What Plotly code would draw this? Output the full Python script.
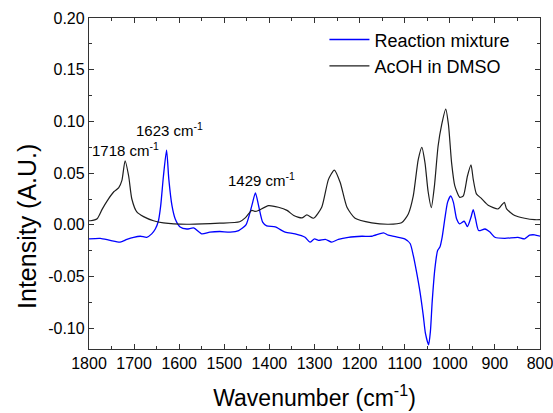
import plotly.graph_objects as go

# AcOH in DMSO (black)
acoh_wn = [1800, 1797, 1782, 1771, 1760, 1745, 1734, 1727, 1720, 1712, 1705, 1694, 1679, 1657, 1635, 1583,
           1510, 1466, 1453, 1439, 1431, 1424, 1402, 1380, 1361, 1346, 1328, 1317, 1302, 1284, 1269, 1256,
           1243, 1228, 1210, 1173, 1136, 1107, 1092, 1081, 1070, 1062, 1055, 1048, 1041, 1034, 1026, 1018,
           1009, 1003, 996, 989, 978, 970, 961, 953, 948, 941, 930, 915, 893, 886, 879, 874, 856, 834, 812, 800]
acoh_val = [0.004, 0.004, 0.006, 0.015, 0.023, 0.032, 0.036, 0.043, 0.062, 0.047, 0.025, 0.0125, 0.008, 0.004, 0.002, 0.0006,
            0.0016, 0.003, 0.007, 0.014, 0.013, 0.014, 0.0186, 0.017, 0.014, 0.009, 0.0067, 0.0096, 0.0064, 0.017, 0.044, 0.053,
            0.041, 0.017, 0.0064, 0.002, 0.0006, 0.002, 0.0106, 0.028, 0.063, 0.075, 0.060, 0.032, 0.0167, 0.038, 0.076, 0.097,
            0.112, 0.097, 0.060, 0.038, 0.0266, 0.028, 0.047, 0.058, 0.044, 0.030, 0.0256, 0.019, 0.0154, 0.0186, 0.0218, 0.0154, 0.009, 0.0064, 0.005, 0.005]

# Reaction mixture (blue)
rxn_wn = [1800, 1775, 1753, 1731, 1716, 1701, 1686, 1672, 1661, 1653, 1646, 1641, 1635, 1628, 1623, 1616, 1609, 1598,
          1583, 1568, 1550, 1532, 1510, 1487, 1468, 1452, 1439, 1431, 1424, 1415, 1406, 1387, 1365, 1343, 1321, 1310,
          1300, 1291, 1276, 1262, 1247, 1225, 1195, 1173, 1147, 1136, 1114, 1100, 1088, 1081, 1074, 1066, 1059, 1054,
          1047, 1043, 1039, 1033, 1027, 1022, 1017, 1011, 1005, 998, 992, 985, 978, 968, 961, 953, 948, 943, 936,
          922, 911, 900, 878, 849, 834, 823, 812, 800]
rxn_val = [-0.0135, -0.013, -0.015, -0.0167, -0.014, -0.012, -0.011, -0.012, -0.0087, -0.004, 0.004, 0.0186, 0.047, 0.0722, 0.044, 0.0186, 0.006, -0.002,
           -0.004, -0.003, -0.0087, -0.007, -0.0064, -0.007, -0.0055, 0.000, 0.0186, 0.031, 0.0186, 0.0026, -0.001, -0.002, -0.007, -0.0087, -0.012, -0.0167,
           -0.0135, -0.015, -0.014, -0.0167, -0.014, -0.012, -0.011, -0.011, -0.0077, -0.010, -0.012, -0.0135, -0.018, -0.0295, -0.045, -0.065, -0.087, -0.105,
           -0.116, -0.103, -0.074, -0.042, -0.0247, -0.0215, -0.012, 0.006, 0.0218, 0.028, 0.0218, 0.006, 0.001, 0.0035, -0.0016, 0.0074, 0.0147, 0.006, -0.0055,
           -0.004, -0.007, -0.012, -0.013, -0.012, -0.0135, -0.010, -0.0096, -0.011]

x_ticks = [1800, 1700, 1600, 1500, 1400, 1300, 1200, 1100, 1000, 900, 800]
y_ticks = [-0.10, -0.05, 0.00, 0.05, 0.10, 0.15, 0.20]
y_tick_text = ["-0.10", "-0.05", "0.00", "0.05", "0.10", "0.15", "0.20"]

peak_labels = ["1718 cm<sup>-1</sup>", "1623 cm<sup>-1</sup>", "1429 cm<sup>-1</sup>"]
peak_x = [1718, 1622, 1418]
peak_y = [0.073, 0.092, 0.044]

FONT = "Arial, Liberation Sans, sans-serif"

fig = go.Figure()
fig.add_trace(go.Scatter(x=rxn_wn, y=rxn_val, mode="lines", name="Reaction mixture",
                         line=dict(color="#0000ff", width=1.3, shape="spline", smoothing=0.6)))
fig.add_trace(go.Scatter(x=acoh_wn, y=acoh_val, mode="lines", name="AcOH in DMSO",
                         line=dict(color="#1e1e1e", width=1.2, shape="spline", smoothing=0.6)))

for t, xx, yy in zip(peak_labels, peak_x, peak_y):
    fig.add_annotation(x=xx, y=yy, text=t, showarrow=False,
                       font=dict(family=FONT, size=15, color="black"))

# y-axis title (rotated text, centred like the reference)
fig.add_annotation(xref="paper", yref="y", x=0, y=-0.002, xanchor="center", yanchor="middle",
                   xshift=-62, textangle=-90, text="Intensity (A.U.)", showarrow=False,
                   font=dict(family=FONT, size=25, color="black"))

axis_common = dict(showline=True, linecolor="#333333", linewidth=1.3, mirror="ticks",
                   ticks="inside", ticklen=5, tickwidth=1, tickcolor="#333333",
                   showgrid=False, zeroline=False, automargin=False,
                   ticklabeloverflow="allow",
                   tickfont=dict(family=FONT, size=16, color="black"))

fig.update_xaxes(range=[1800, 800], tickvals=x_ticks,
                 minor=dict(ticks="inside", ticklen=3, dtick=50, tick0=800, tickcolor="#333333"),
                 title=dict(text="Wavenumber (cm<sup>-1</sup>)", font=dict(family=FONT, size=23, color="black"), standoff=18),
                 **axis_common)
fig.update_yaxes(range=[-0.12, 0.20], tickvals=y_ticks, ticktext=y_tick_text,
                 minor=dict(ticks="inside", ticklen=3, dtick=0.025, tick0=0, tickcolor="#333333"),
                 **axis_common)

fig.update_layout(width=553, height=413, margin=dict(l=89, r=13, t=18, b=64),
                  plot_bgcolor="white", paper_bgcolor="white",
                  legend=dict(x=0.522, y=0.99, xanchor="left", yanchor="top", bgcolor="rgba(0,0,0,0)",
                              font=dict(family=FONT, size=18, color="black"),
                              itemwidth=40, tracegroupgap=0))

# remove the default page margin so the 553x413 figure fills the window exactly
fig.write_html("out.html", config={"displayModeBar": False},
               post_script="document.body.style.margin='0';document.body.style.overflow='hidden';")
